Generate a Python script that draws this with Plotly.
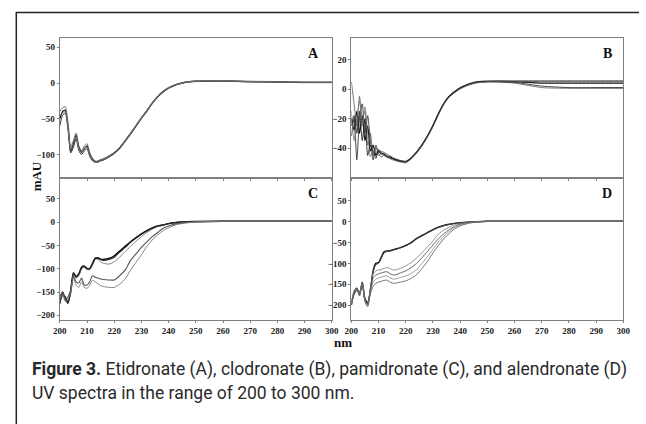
import plotly.graph_objects as go

W, H = 646, 424

# Wavelength grid (nm)
WL = [200, 201, 202, 203, 204, 205, 206, 207, 208, 209, 210, 211, 212, 213, 214, 215, 216,
      218, 220, 222, 224, 226, 228, 230, 232, 234, 236, 238, 240, 243, 246, 250,
      260, 270, 280, 290, 300]

# Panel A - etidronate
A1 = [-50, -40, -38, -60, -95, -85, -73, -90, -97, -92, -88, -100, -107, -110, -110, -108, -107,
      -103, -98, -91, -81, -71, -60, -49, -39, -28, -19, -12, -7, -2, 1, 2.5, 3, 2, 1.5, 1, 1]
A2 = [-40, -35, -33, -55, -90, -80, -70, -88, -95, -88, -85, -97, -105, -109, -109, -107, -106,
      -102, -97, -90, -80, -70, -59, -48, -38, -27, -18, -11, -6, -1.5, 1.5, 3, 3.5, 2.5, 2, 1.5, 1.5]
A3 = [-60, -45, -42, -65, -98, -90, -78, -95, -100, -95, -92, -103, -109, -111, -111, -109, -108,
      -104, -99, -92, -82, -72, -61, -50, -40, -29, -20, -13, -7.5, -2.5, 0.5, 2, 2.5, 1.5, 1, 0.5, 0.5]
A4 = [-45, -42, -40, -62, -93, -82, -75, -92, -98, -91, -90, -101, -108, -110, -110, -108, -107,
      -103, -98, -91, -81, -71, -60, -49, -39, -28, -19, -12, -7, -2, 1, 2.5, 3, 2, 1.5, 1, 1]

# Panel B - clodronate
B1 = [-20, -28, -15, -30, -18, -35, -25, -42, -38, -45, -42, -44, -44, -46, -46, -47, -48,
      -49, -49.5, -47, -43, -38, -32, -25, -17, -10, -5, -2, 0.5, 3, 4.5, 5, 5, 4, 4, 4, 4]
B2 = [5, -10, -25, -5, -20, -15, -38, -30, -45, -40, -43, -42, -43, -44, -45, -46, -47,
      -48.5, -49, -46.5, -42.5, -37.5, -31.5, -24.5, -16.5, -9.5, -4.5, -1.5, 1, 3, 4.5, 5, 4, 1, 0.5, 0.5, 0.5]
B3 = [-32, -20, -48, -20, -10, -30, -18, -35, -48, -38, -44, -46, -45, -46, -47, -47, -48,
      -49, -49.5, -47, -43, -38, -32, -25, -17, -10, -5, -2, 0.5, 3, 4.5, 5, 4.5, 2, 1, 1, 1]
B4 = [-15, -35, -20, -8, -25, -12, -30, -46, -40, -42, -45, -44, -45, -46, -47, -48, -48.5,
      -49.5, -50, -47.5, -43.5, -38.5, -32.5, -25.5, -17.5, -10.5, -5.5, -2.5, 0, 2.5, 4, 5, 5, 5, 5, 5, 5]
B5 = [-25, -18, -30, -15, -35, -20, -45, -38, -42, -47, -41, -43, -44, -45, -46, -47, -47.5,
      -48.5, -49, -46.5, -42.5, -37.5, -31.5, -24.5, -16.5, -9.5, -4.5, -1.5, 1, 3.5, 5, 5.5, 5.5, 5.5, 5.5, 5.5, 5.5]

# Panel C - pamidronate
C1 = [-175, -150, -165, -172, -150, -110, -118, -112, -98, -95, -100, -100, -90, -78, -77, -80, -80,
      -78, -72, -62, -52, -42, -33, -25, -18, -12, -8, -6, -3, -0.5, 1, 1.5, 2, 2, 2, 2, 2]
C2 = [-172, -155, -162, -170, -148, -112, -120, -114, -100, -97, -102, -102, -92, -80, -80, -85, -88,
      -90, -85, -75, -63, -52, -41, -31, -22, -15, -9, -6, -3, -0.5, 1, 1.5, 2, 2, 2, 2, 2]
C3 = [-168, -158, -160, -175, -145, -108, -116, -110, -96, -94, -99, -99, -88, -77, -76, -79, -82,
      -80, -75, -64, -54, -43, -34, -26, -19, -13, -8, -5.5, -3, -0.5, 1, 1.5, 2, 2, 2, 2, 2]
C4 = [-160, -150, -165, -160, -145, -115, -128, -130, -120, -135, -135, -128, -115, -118, -120, -122, -123,
      -124, -124, -115, -103, -82, -68, -54, -42, -31, -22, -13, -8, -3, -1, 1, 2, 2, 2, 2, 2]
C5 = [-165, -155, -170, -165, -150, -120, -135, -140, -128, -140, -142, -135, -125, -128, -132, -136, -138,
      -140, -140, -133, -122, -103, -86, -70, -52, -38, -27, -18, -12, -5, -2, 0.5, 2, 2, 2, 2, 2]

# Panel D - alendronate
D1 = [-200, -170, -160, -175, -145, -185, -195, -165, -118, -100, -98, -85, -72, -70, -70, -68, -66,
      -62, -57, -50, -40, -33, -26, -19, -13, -9, -6, -4, -2.5, -1, 0, 1, 1, 1, 1, 1, 1]
D2 = [-195, -175, -165, -170, -150, -190, -198, -160, -120, -103, -100, -88, -75, -72, -71, -69, -67,
      -63, -58, -51, -41, -34, -27, -20, -14, -9.5, -6.5, -4, -2.5, -1, 0, 1, 1, 1, 1, 1, 1]
D3 = [-198, -165, -158, -172, -148, -188, -200, -162, -125, -118, -116, -115, -112, -110, -112, -115, -116,
      -112, -106, -98, -87, -74, -60, -46, -30, -20, -13, -7, -4, -1.5, 0, 1, 1, 1, 1, 1, 1]
D4 = [-192, -172, -162, -178, -146, -186, -196, -168, -135, -128, -125, -123, -121, -120, -124, -127, -128,
      -123, -118, -110, -100, -86, -71, -56, -41, -29, -19, -11, -6, -2, 0, 1, 1, 1, 1, 1, 1]
D5 = [-196, -168, -164, -174, -150, -190, -202, -170, -145, -138, -135, -133, -131, -130, -134, -137, -138,
      -134, -130, -124, -115, -100, -84, -66, -49, -35, -23, -14, -8, -3, -0.5, 1, 1, 1, 1, 1, 1]
D6 = [-200, -170, -160, -176, -148, -192, -204, -172, -155, -148, -145, -143, -141, -140, -144, -147, -148,
      -145, -142, -136, -127, -112, -95, -75, -57, -41, -28, -17, -10, -4, -1, 1, 1, 1, 1, 1, 1]

X_TICKS = [200, 210, 220, 230, 240, 250, 260, 270, 280, 290, 300]
PANEL_LABELS = ["A", "B", "C", "D"]

panels = {
    "A": ([A1, A2, A3, A4], ["#111111", "#555555", "#333333", "#888888"], [1.2, 0.8, 1.0, 0.8], [-133, 63], [-100, -50, 0, 50]),
    "B": ([B1, B2, B3, B4, B5], ["#111111", "#555555", "#333333", "#777777", "#222222"], [1.2, 0.8, 0.9, 0.8, 0.9], [-60.3, 34.6], [-40, -20, 0, 20]),
    "C": ([C1, C2, C3, C4, C5], ["#111111", "#777777", "#222222", "#555555", "#777777"], [1.5, 0.9, 1.2, 1.1, 0.9], [-210, 95], [-200, -150, -100, -50, 0, 50]),
    "D": ([D1, D2, D3, D4, D5, D6], ["#111111", "#444444", "#777777", "#555555", "#888888", "#666666"], [1.4, 1.0, 0.8, 0.9, 0.8, 0.9], [-236, 105], [-200, -150, -100, -50, 0, 50]),
}

# panel pixel boxes (left, right, top, bottom)
boxes = {"A": (54, 332, 38, 178), "B": (352, 630, 38, 178),
         "C": (54, 332, 178, 320), "D": (352, 630, 178, 320)}
label_pos = {"A": (313, 53), "B": (614, 53), "C": (313, 193), "D": (613, 194)}

fig = go.Figure()
layout = dict(width=W, height=H, margin=dict(l=0, r=0, t=0, b=0),
              paper_bgcolor="white", plot_bgcolor="white", showlegend=False)

SERIF = "Liberation Serif, Times New Roman, serif"
tickfont = dict(family=SERIF, size=9, color="#222", weight="bold")
annotations = []
for i, key in enumerate(PANEL_LABELS):
    series, colors, widths, yr, yt = panels[key]
    xa = "x" if i == 0 else f"x{i+1}"
    ya = "y" if i == 0 else f"y{i+1}"
    for s, c, w in zip(series, colors, widths):
        fig.add_trace(go.Scatter(x=WL, y=s, mode="lines", xaxis=xa, yaxis=ya,
                                 line=dict(color=c, width=w, shape="spline", smoothing=0.6),
                                 hoverinfo="skip"))
    l, r, t, b = boxes[key]
    axname = "xaxis" if i == 0 else f"xaxis{i+1}"
    ayname = "yaxis" if i == 0 else f"yaxis{i+1}"
    bottom = key in ("C", "D")
    layout[axname] = dict(domain=[l / W, r / W], range=[200, 300], anchor=ya,
                          showgrid=False, zeroline=False, showline=True, mirror=True,
                          linecolor="#808080", linewidth=1.3,
                          tickvals=X_TICKS, showticklabels=bottom, ticks="outside",
                          ticklen=2, tickcolor="#808080", tickfont=tickfont)
    layout[ayname] = dict(domain=[1 - b / H, 1 - t / H], range=yr, anchor=xa,
                          showgrid=False, zeroline=False, showline=True, mirror=True,
                          linecolor="#808080", linewidth=1.3,
                          tickvals=yt, ticks="outside", ticklen=2, tickcolor="#808080",
                          tickfont=tickfont)
    lx, ly = label_pos[key]
    annotations.append(dict(x=lx / W, y=1 - ly / H, xref="paper", yref="paper", text=f"<b>{key}</b>",
                            showarrow=False, xanchor="center", yanchor="middle",
                            font=dict(family=SERIF, size=14, color="#111")))

annotations.append(dict(x=30 / W, y=1 - 176 / H, xref="paper", yref="paper", text="<b>mAU</b>",
                        textangle=-90, showarrow=False, xanchor="center", yanchor="middle",
                        font=dict(family=SERIF, size=13, color="#111")))
annotations.append(dict(x=343 / W, y=1 - 342 / H, xref="paper", yref="paper", text="<b>nm</b>",
                        showarrow=False, xanchor="center", yanchor="middle",
                        font=dict(family=SERIF, size=13, color="#111")))

cap_font = dict(family="Roboto, Liberation Sans, sans-serif", size=17.5, color="#2a2a2a")
annotations.append(dict(x=24 / W, y=1 - 369 / H, xref="paper", yref="paper",
                        text="<b>Figure 3.</b> Etidronate (A), clodronate (B), pamidronate (C), and alendronate (D)",
                        showarrow=False, xanchor="left", yanchor="middle", font=cap_font))
annotations.append(dict(x=24 / W, y=1 - 393 / H, xref="paper", yref="paper",
                        text="UV spectra in the range of 200 to 300 nm.",
                        showarrow=False, xanchor="left", yanchor="middle", font=cap_font))
layout["annotations"] = annotations

# outer open frame
layout["shapes"] = [dict(type="path", xref="paper", yref="paper",
                         path=f"M {9.5/W} 0 L {9.5/W} {1-12.5/H} L 1 {1-12.5/H}",
                         line=dict(color="#222", width=1.5))]

fig.update_layout(**layout)
fig.write_html("out.html", config={"displayModeBar": False},
               post_script="document.body.style.margin='0';document.body.style.overflow='hidden';")
